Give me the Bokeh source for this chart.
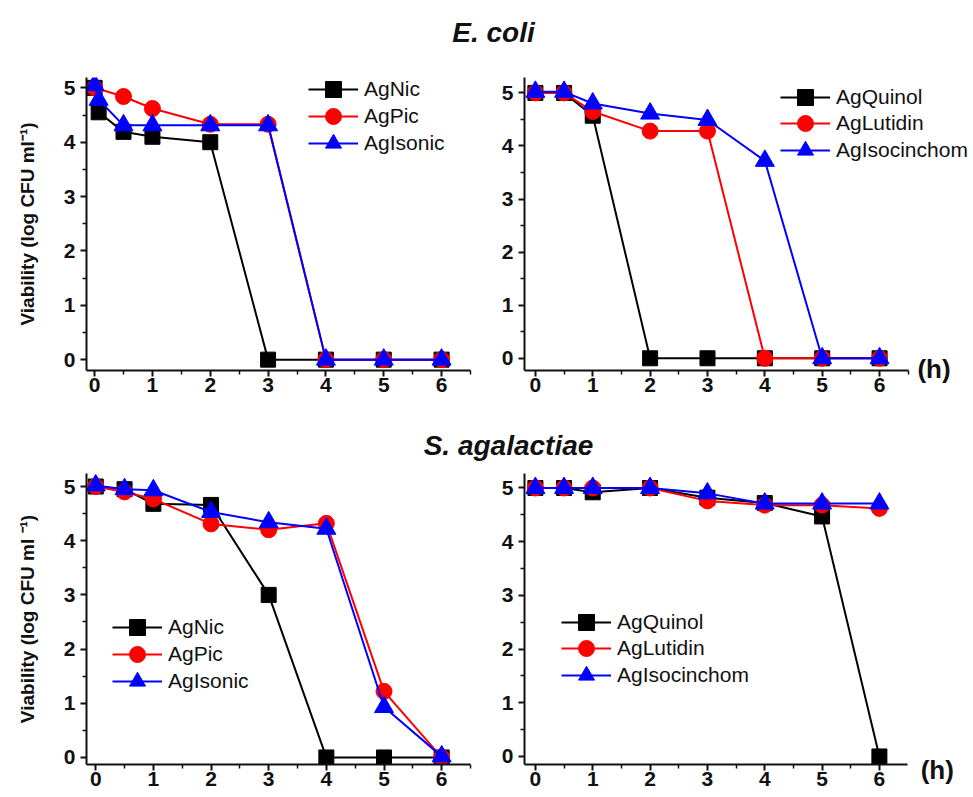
from bokeh.plotting import figure
from bokeh.models import Range1d, FixedTicker, Legend, LegendItem, Label
from bokeh.layouts import column, row
from bokeh.embed import file_html
from bokeh.resources import INLINE

# ---------------- data ----------------
time_h = [0, 0.5, 1, 2, 3, 4, 5, 6]
time_h_ecoli_early = [0, 0.07, 0.5, 1, 2, 3, 4, 5, 6]

# E. coli, left panel
ecoli_agnic = [5.0, 4.55, 4.19, 4.1, 4.0, 0, 0, 0, 0]          # on time_h_ecoli_early
ecoli_agpic = [5.0, 4.84, 4.62, 4.33, 4.33, 0, 0, 0]            # on time_h
ecoli_agisonic = [5.05, 4.78, 4.31, 4.31, 4.31, 4.31, 0, 0, 0]  # on time_h_ecoli_early

# E. coli, right panel
ecoli_agquinol = [5.0, 5.0, 4.57, 0, 0, 0, 0, 0]
ecoli_aglutidin = [5.0, 5.0, 4.65, 4.28, 4.28, 0, 0, 0]
ecoli_agisocinchom = [5.02, 5.02, 4.8, 4.61, 4.49, 3.72, 0, 0]

# S. agalactiae, left panel
sag_agnic = [5.0, 4.95, 4.68, 4.66, 3.0, 0, 0, 0]
sag_agpic = [5.0, 4.9, 4.77, 4.31, 4.2, 4.32, 1.22, 0]
sag_agisonic = [5.02, 4.95, 4.93, 4.53, 4.34, 4.22, 0.93, 0.02]

# S. agalactiae, right panel
sag_agquinol = [5.0, 5.0, 4.92, 5.0, 4.82, 4.72, 4.47, 0]
sag_aglutidin = [5.0, 5.0, 5.0, 5.0, 4.76, 4.68, 4.68, 4.62]
sag_agisocinchom = [5.0, 5.0, 5.0, 5.0, 4.9, 4.71, 4.71, 4.71]

x_major = [0, 1, 2, 3, 4, 5, 6]
x_minor = [0.5, 1.5, 2.5, 3.5, 4.5, 5.5, 6.5]
y_major = [0, 1, 2, 3, 4, 5]
y_minor = [0.5, 1.5, 2.5, 3.5, 4.5]

FONT = "Liberation Sans"
INK = "#111111"
COLORS = ["#000000", "#ff0000", "#0000ff"]
MARKERS = [("square", 15), ("circle", 16), ("triangle", 19)]


def hours_label(x, y):
    return Label(x=x, y=y, text="(h)", text_font=FONT, text_font_style="bold",
                 text_font_size="26px", text_color=INK, text_baseline="middle",
                 text_align="left", level="overlay")


def panel(width, height, xr, yr, mb_left, mb_right, mb_top, mb_bottom, series, names,
          legend_x, legend_row_bottoms, ylabel=None, x_bounds=None):
    p = figure(width=width, height=height, x_range=Range1d(*xr), y_range=Range1d(*yr),
               toolbar_location=None, output_backend="svg",
               min_border_left=mb_left, min_border_right=mb_right,
               min_border_top=mb_top, min_border_bottom=mb_bottom)
    p.outline_line_color = None
    p.grid.visible = False
    for ax, maj, mnr in ((p.xaxis[0], x_major, x_minor), (p.yaxis[0], y_major, y_minor)):
        ax.ticker = FixedTicker(ticks=maj, minor_ticks=mnr)
        ax.axis_line_width = 2
        ax.axis_line_color = INK
        ax.major_tick_line_width = 2
        ax.major_tick_line_color = INK
        ax.major_tick_out = 6
        ax.major_tick_in = 0
        ax.minor_tick_line_width = 1.5
        ax.minor_tick_line_color = INK
        ax.minor_tick_out = 4
        ax.minor_tick_in = 0
        ax.major_label_text_font = FONT
        ax.major_label_text_font_style = "bold"
        ax.major_label_text_font_size = "21px"
        ax.major_label_text_color = INK
    if x_bounds is not None:
        p.xaxis.bounds = x_bounds
    p.xaxis.major_label_standoff = 1
    p.yaxis.major_label_standoff = 5
    if ylabel:
        p.yaxis.axis_label = ylabel
        p.yaxis.axis_label_text_font = FONT
        p.yaxis.axis_label_text_font_style = "bold"
        p.yaxis.axis_label_text_font_size = "19px"
        p.yaxis.axis_label_text_color = INK
        p.yaxis.axis_label_standoff = 23

    for (xs, ys), name, col, (mk, sz), yb in zip(series, names, COLORS, MARKERS,
                                                legend_row_bottoms):
        lr = p.line(xs, ys, line_color=col, line_width=2)
        sr = p.scatter(xs, ys, marker=mk, size=sz, fill_color=col, line_color=col)
        leg = Legend(items=[LegendItem(label=name, renderers=[lr, sr])],
                     location=(legend_x, yb), level="overlay")
        leg.glyph_width = 50
        leg.glyph_height = 40
        leg.label_height = 27
        leg.padding = 0
        leg.margin = 0
        leg.label_standoff = 6
        leg.border_line_color = None
        leg.background_fill_alpha = 0
        leg.label_text_font = FONT
        leg.label_text_font_size = "21px"
        leg.label_text_color = INK
        p.add_layout(leg)
    return p


def title_fig(h, text, cx, cy_from_top):
    t = figure(width=972, height=h, x_range=Range1d(0, 972), y_range=Range1d(0, h),
               toolbar_location=None, output_backend="svg", min_border=0,
               x_axis_type=None, y_axis_type=None)
    t.outline_line_color = None
    t.grid.visible = False
    t.add_layout(Label(x=cx, y=h - cy_from_top, text=text, text_font=FONT,
                       text_font_style="bold italic", text_font_size="28px",
                       text_color=INK, text_align="center", text_baseline="middle"))
    return t


ylab = "Viability (log CFU ml⁻¹)"
ylab2 = "Viability (log CFU ml ⁻¹)"

# page coords: top row frame y 77..370 ; bottom row frame y 473..764
p1 = panel(490, 368, (-0.14, 6.5), (-0.2, 5.19), 86, 20, 30, 45,
           [(time_h_ecoli_early, ecoli_agnic), (time_h, ecoli_agpic),
            (time_h_ecoli_early, ecoli_agisonic)],
           ["AgNic", "AgPic", "AgIsonic"], 222, [261, 234, 207], ylabel=ylab)
p2 = panel(482, 368, (-0.19, 7.62), (-0.23, 5.29), 34, 0, 30, 45,
           [(time_h, ecoli_agquinol), (time_h, ecoli_aglutidin),
            (time_h, ecoli_agisocinchom)],
           ["AgQuinol", "AgLutidin", "AgIsocinchom"], 256, [253, 227, 200],
           x_bounds=(-0.19, 6.5))
# placed in the (unclipped) top side panel, drawn at its data position
p2.add_layout(hours_label(6.66, -0.2), "above")

p3 = panel(490, 334, (-0.16, 6.5), (-0.13, 5.24), 86, 20, 11, 32,
           [(time_h, sag_agnic), (time_h, sag_agpic), (time_h, sag_agisonic)],
           ["AgNic", "AgPic", "AgIsonic"], 26, [117, 90, 63], ylabel=ylab2)
p4 = panel(482, 334, (-0.19, 6.49), (-0.15, 5.27), 34, 65, 11, 32,
           [(time_h, sag_agquinol), (time_h, sag_aglutidin), (time_h, sag_agisocinchom)],
           ["AgQuinol", "AgLutidin", "AgIsocinchom"], 37, [122, 96, 69])
p4.add_layout(hours_label(6.72, -0.26), "right")

t1 = title_fig(47, "E. coli", 493, 32)
t2 = title_fig(47, "S. agalactiae", 508, 30)

layout = column(t1, row(p1, p2), t2, row(p3, p4))

open("out.html", "w").write(file_html(layout, INLINE))
